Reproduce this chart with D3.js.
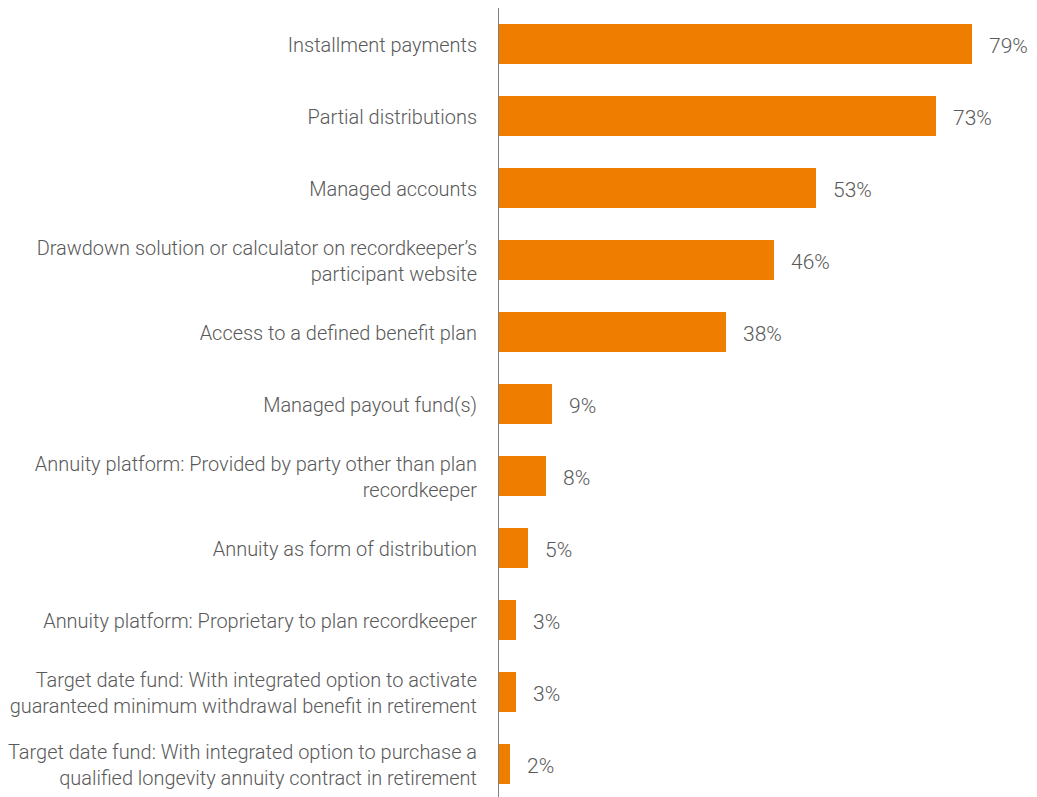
<!DOCTYPE html>
<html>
<head>
<meta charset="utf-8">
<script src="https://cdn.jsdelivr.net/npm/d3@7"></script>
<style>
  html, body { margin: 0; padding: 0; background: #ffffff; }
  svg { display: block; }
  text { font-family: Roboto, "Liberation Sans", sans-serif; font-weight: 300; fill: #595959; }
</style>
</head>
<body>
<svg id="chart" width="1037" height="797"></svg>
<script>
// Retirement income options offered by plans (share of plans, %)
const categories = [
  ["Installment payments"],
  ["Partial distributions"],
  ["Managed accounts"],
  ["Drawdown solution or calculator on recordkeeper\u2019s", "participant website"],
  ["Access to a defined benefit plan"],
  ["Managed payout fund(s)"],
  ["Annuity platform: Provided by party other than plan", "recordkeeper"],
  ["Annuity as form of distribution"],
  ["Annuity platform: Proprietary to plan recordkeeper"],
  ["Target date fund: With integrated option to activate", "guaranteed minimum withdrawal benefit in retirement"],
  ["Target date fund: With integrated option to purchase a", "qualified longevity annuity contract in retirement"]
];
const values = [79, 73, 53, 46, 38, 9, 8, 5, 3, 3, 2];
const valueLabels = values.map(v => v + "%");

const svg = d3.select("#chart");
const axisX = 498;
const labelRight = 477;

const x = d3.scaleLinear().domain([0, 79]).range([axisX, 972]);
const y = d3.scaleBand()
  .domain(d3.range(categories.length))
  .range([8, 800])
  .paddingInner(32 / 72)
  .paddingOuter(16 / 72);

// bars
svg.append("g").selectAll("rect")
  .data(values)
  .join("rect")
  .attr("x", x(0))
  .attr("y", (d, i) => y(i))
  .attr("width", d => x(d) - x(0))
  .attr("height", y.bandwidth())
  .attr("fill", "#EF7D00");

// category axis line
svg.append("line")
  .attr("x1", axisX + 0.5).attr("x2", axisX + 0.5)
  .attr("y1", 8).attr("y2", 797)
  .attr("stroke", "#7f7f7f")
  .attr("stroke-width", 1);

// category labels (slightly condensed, right-aligned to the axis)
const lineH = 26;
const baseOff = 8.5;
const labelGroup = svg.append("g")
  .attr("transform", `translate(${labelRight},0) scale(0.95,1)`);
const labels = labelGroup.selectAll("text")
  .data(categories)
  .join("text")
  .attr("x", 0)
  .attr("y", (d, i) => y(i) + y.bandwidth() / 2)
  .attr("text-anchor", "end")
  .attr("font-size", 21);
labels.each(function(lines) {
  const t = d3.select(this);
  const y0 = baseOff - (lines.length - 1) * lineH / 2;
  lines.forEach((ln, k) => {
    t.append("tspan")
      .attr("x", 0)
      .attr("dy", k === 0 ? y0 : lineH)
      .text(ln);
  });
});

// value labels
svg.append("g").selectAll("text")
  .data(values)
  .join("text")
  .attr("x", d => x(d) + 17)
  .attr("y", (d, i) => y(i) + y.bandwidth() / 2 + baseOff)
  .attr("font-size", 21)
  .text((d, i) => valueLabels[i]);
</script>
</body>
</html>
